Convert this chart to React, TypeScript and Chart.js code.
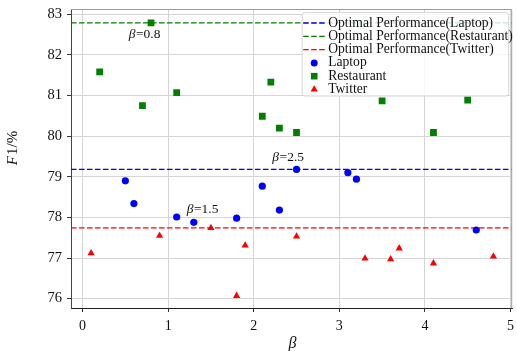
import React, { useEffect, useRef } from 'react';
import { Chart, registerables } from 'chart.js';

Chart.register(...registerables);

// ---- data ----
const laptopBeta = [0.5, 0.6, 1.1, 1.3, 1.8, 2.1, 2.3, 2.5, 3.1, 3.2, 4.6];
const laptopF1 = [78.9, 78.34, 78.01, 77.88, 77.98, 78.77, 78.18, 79.18, 79.1, 78.94, 77.69];

const restaurantBeta = [0.2, 0.7, 0.8, 1.1, 2.1, 2.2, 2.3, 2.5, 3.5, 4.1, 4.5];
const restaurantF1 = [81.58, 80.75, 82.79, 81.07, 80.49, 81.33, 80.2, 80.09, 80.87, 80.09, 80.89];

const twitterBeta = [0.1, 0.9, 1.5, 1.8, 1.9, 2.5, 3.3, 3.6, 3.7, 4.1, 4.8];
const twitterF1 = [77.12, 77.55, 77.74, 76.07, 77.31, 77.53, 76.99, 76.97, 77.24, 76.87, 77.04];

const optimalLaptop = 79.18;
const optimalRestaurant = 82.79;
const optimalTwitter = 77.74;

const xTickValues = [0, 1, 2, 3, 4, 5];
const yTickValues = [76, 77, 78, 79, 80, 81, 82, 83];
const xMin = -0.135;
const xMax = 5.02;
const yMin = 75.77;
const yMax = 83.13;

// annotation labels: [beta text, x (left), y (middle)]
const annotationTexts = ['0.8', '2.5', '1.5'];
const annotationX = [0.54, 2.217, 1.217];
const annotationY = [82.51, 79.48, 78.2];

const legendLabels = [
  'Optimal Performance(Laptop)',
  'Optimal Performance(Restaurant)',
  'Optimal Performance(Twitter)',
  'Laptop',
  'Restaurant',
  'Twitter',
];

const BLUE = '#0000ff';
const GREEN = '#008000';
const RED = '#ff0000';
const SERIF = '"Liberation Serif", "DejaVu Serif", serif';

const toPoints = (xs: number[], ys: number[]) => xs.map((x, i) => ({ x, y: ys[i] }));
const hLine = (v: number) => [
  { x: xMin, y: v },
  { x: xMax, y: v },
];

function drawMarker(ctx: CanvasRenderingContext2D, kind: string, x: number, y: number, color: string) {
  ctx.fillStyle = color;
  ctx.beginPath();
  if (kind === 'circle') {
    ctx.arc(x, y, 3.5, 0, Math.PI * 2);
  } else if (kind === 'rect') {
    ctx.rect(x - 3.3, y - 3.3, 6.6, 6.6);
  } else {
    const r = 4.2;
    ctx.moveTo(x, y - r);
    ctx.lineTo(x + r * Math.sin((2 * Math.PI) / 3), y + r / 2);
    ctx.lineTo(x - r * Math.sin((2 * Math.PI) / 3), y + r / 2);
    ctx.closePath();
  }
  ctx.fill();
}

const decorPlugin = {
  id: 'decor',
  afterDatasetsDraw(chart: any) {
    const ctx: CanvasRenderingContext2D = chart.ctx;
    const xs = chart.scales.x;
    const ys = chart.scales.y;
    ctx.save();
    ctx.fillStyle = '#111';
    ctx.textBaseline = 'middle';
    annotationTexts.forEach((t, i) => {
      const px = xs.getPixelForValue(annotationX[i]);
      const py = ys.getPixelForValue(annotationY[i]);
      ctx.font = `italic 13.5px ${SERIF}`;
      ctx.textAlign = 'left';
      ctx.fillText('β', px, py);
      const w = ctx.measureText('β').width;
      ctx.font = `13.5px ${SERIF}`;
      ctx.fillText('=' + t, px + w + 0.5, py);
    });
    ctx.restore();
  },
  afterDraw(chart: any) {
    const ctx: CanvasRenderingContext2D = chart.ctx;
    const ca = chart.chartArea;
    ctx.save();
    // top / right frame
    ctx.strokeStyle = '#9a9a9a';
    ctx.lineWidth = 1;
    ctx.beginPath();
    ctx.moveTo(ca.left, ca.top + 0.5);
    ctx.lineTo(ca.right - 0.5, ca.top + 0.5);
    ctx.lineTo(ca.right - 0.5, ca.bottom);
    ctx.stroke();

    // axis titles
    ctx.fillStyle = '#111';
    ctx.textBaseline = 'middle';
    ctx.textAlign = 'left';
    ctx.save();
    ctx.translate(13, 148);
    ctx.rotate(-Math.PI / 2);
    ctx.font = `italic 15px ${SERIF}`;
    const fw = ctx.measureText('F').width;
    ctx.font = `15px ${SERIF}`;
    const rw = ctx.measureText('1/%').width;
    const start = -(fw + rw + 1) / 2;
    ctx.font = `italic 15px ${SERIF}`;
    ctx.fillText('F', start, 0);
    ctx.font = `15px ${SERIF}`;
    ctx.fillText('1/%', start + fw + 1, 0);
    ctx.restore();

    ctx.font = `italic 16px ${SERIF}`;
    ctx.textAlign = 'center';
    ctx.fillText('β', (ca.left + ca.right) / 2 + 1, 344);

    // legend
    const bx = ca.right - 210;
    const by = ca.top + 3.5;
    const bw = 206.5;
    const bh = 83.5;
    ctx.beginPath();
    ctx.roundRect(bx, by, bw, bh, 3);
    ctx.fillStyle = 'rgba(255,255,255,0.8)';
    ctx.fill();
    ctx.strokeStyle = '#d6d6d6';
    ctx.stroke();

    const colors = [BLUE, GREEN, RED, BLUE, GREEN, RED];
    const kinds = ['line', 'line', 'line', 'circle', 'rect', 'triangle'];
    legendLabels.forEach((lab, i) => {
      const ry = by + 10.5 + i * 13.3;
      const lx0 = bx + 1;
      const lx1 = bx + 23;
      if (kinds[i] === 'line') {
        ctx.save();
        ctx.strokeStyle = colors[i];
        ctx.lineWidth = 1.3;
        ctx.setLineDash([5.5, 2.5]);
        ctx.beginPath();
        ctx.moveTo(lx0, ry);
        ctx.lineTo(lx1, ry);
        ctx.stroke();
        ctx.restore();
      } else {
        drawMarker(ctx, kinds[i], (lx0 + lx1) / 2, ry, colors[i]);
      }
      ctx.fillStyle = '#111';
      ctx.font = `13.6px ${SERIF}`;
      ctx.textAlign = 'left';
      ctx.textBaseline = 'middle';
      ctx.fillText(lab, bx + 26, ry);
    });
    ctx.restore();
  },
};

export default function App() {
  const canvasRef = useRef<HTMLCanvasElement | null>(null);

  useEffect(() => {
    if (!canvasRef.current) return;
    const lineDs = (label: string, v: number, color: string) => ({
      type: 'line' as const,
      label,
      data: hLine(v),
      borderColor: color,
      borderWidth: 1.3,
      borderDash: [5.5, 2.5],
      pointRadius: 0,
      fill: false,
      order: 2,
    });
    const chart = new Chart(canvasRef.current, {
      type: 'scatter',
      data: {
        datasets: [
          lineDs('Optimal Performance(Laptop)', optimalLaptop, BLUE),
          lineDs('Optimal Performance(Restaurant)', optimalRestaurant, GREEN),
          lineDs('Optimal Performance(Twitter)', optimalTwitter, RED),
          {
            label: 'Laptop',
            data: toPoints(laptopBeta, laptopF1),
            pointStyle: 'circle',
            pointRadius: 3.6,
            backgroundColor: BLUE,
            borderWidth: 0,
            order: 1,
          },
          {
            label: 'Restaurant',
            data: toPoints(restaurantBeta, restaurantF1),
            pointStyle: 'rect',
            pointRadius: 4.8,
            backgroundColor: GREEN,
            borderWidth: 0,
            order: 1,
          },
          {
            label: 'Twitter',
            data: toPoints(twitterBeta, twitterF1),
            pointStyle: 'triangle',
            pointRadius: 4.2,
            backgroundColor: RED,
            borderWidth: 0,
            order: 1,
          },
        ] as any,
      },
      options: {
        animation: false,
        responsive: false,
        layout: { padding: { top: 9, right: 1, left: 0, bottom: 0 } },
        plugins: { legend: { display: false }, tooltip: { enabled: false } },
        scales: {
          x: {
            type: 'linear',
            min: xMin,
            max: xMax,
            afterFit: (s: any) => {
              s.height = 43;
              s.paddingLeft = 0;
              s.paddingRight = 0;
            },
            afterBuildTicks: (s: any) => {
              s.ticks = xTickValues.map((v) => ({ value: v }));
            },
            grid: { color: '#d4d4d4', lineWidth: 1, tickLength: 4, tickColor: '#333' },
            border: { color: '#222', width: 1 },
            ticks: { color: '#111', font: { family: SERIF, size: 14 }, padding: 6 },
          },
          y: {
            type: 'linear',
            min: yMin,
            max: yMax,
            afterFit: (s: any) => {
              s.width = 71;
              s.paddingTop = 0;
              s.paddingBottom = 0;
            },
            afterBuildTicks: (s: any) => {
              s.ticks = yTickValues.map((v) => ({ value: v }));
            },
            grid: { color: '#d4d4d4', lineWidth: 1, tickLength: 4, tickColor: '#333' },
            border: { color: '#444', width: 1 },
            ticks: { color: '#111', font: { family: SERIF, size: 14.5 }, padding: 5 },
          },
        },
      },
      plugins: [decorPlugin],
    });
    return () => chart.destroy();
  }, []);

  return (
    <div style={{ position: 'absolute', left: 0, top: 0, width: 517, height: 351, background: '#fff' }}>
      <canvas ref={canvasRef} width={517} height={351} />
    </div>
  );
}
